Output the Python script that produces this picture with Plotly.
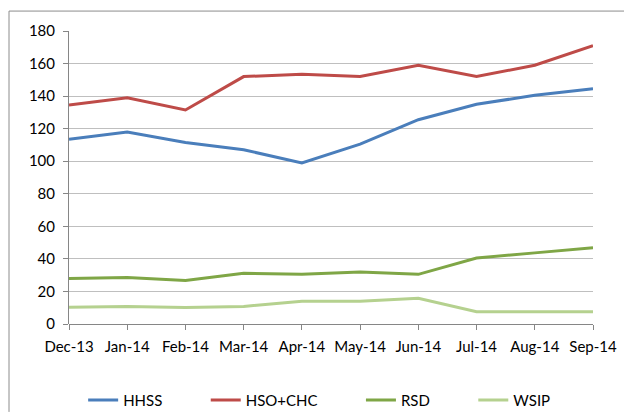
import plotly.graph_objects as go

months = ["Dec-13", "Jan-14", "Feb-14", "Mar-14", "Apr-14", "May-14", "Jun-14", "Jul-14", "Aug-14", "Sep-14"]
hhss = [113.5, 118, 111.5, 107, 99, 110.5, 125.5, 135, 140.5, 144.5]
hso_chc = [134.5, 139, 131.5, 152, 153.5, 152, 159, 152, 159, 171]
rsd = [28, 28.6, 26.8, 31.2, 30.5, 32, 30.5, 40.5, 43.7, 46.8]
wsip = [10.3, 10.8, 10.2, 10.8, 14, 14, 15.8, 7.5, 7.5, 7.5]
y_ticks = [0, 20, 40, 60, 80, 100, 120, 140, 160, 180]

series = [
    ("HHSS", hhss, "#4A7EBB"),
    ("HSO+CHC", hso_chc, "#BE4B48"),
    ("RSD", rsd, "#7FA646"),
    ("WSIP", wsip, "#B5D18F"),
]

pad = "\u00a0" * 10
fig = go.Figure()
for i, (name, vals, color) in enumerate(series):
    label = name + (pad if i < len(series) - 1 else "")
    fig.add_trace(go.Scatter(x=months, y=vals, name=label, mode="lines",
                             line=dict(color=color, width=3)))

font = dict(family="Lato, Open Sans, sans-serif", size=15, color="#000000")
frame = dict(color="#8C8C8C", width=1)

fig.update_layout(
    width=624, height=412,
    margin=dict(l=69, r=31, t=31, b=88, autoexpand=False),
    paper_bgcolor="white", plot_bgcolor="white",
    font=font,
    showlegend=True,
    legend=dict(orientation="h", x=0.027, xanchor="left", y=-0.26, yanchor="middle",
                font=font, itemwidth=30, traceorder="normal"),
    xaxis=dict(type="category", range=[0, 9], showgrid=False, showline=False,
               ticks="outside", ticklen=5, tickcolor="#868686", tickfont=font,
               zeroline=False, automargin=False, ticklabelstandoff=4),
    yaxis=dict(range=[0, 180], tickvals=y_ticks, showgrid=True, gridcolor="#BFBFBF",
               gridwidth=1, showline=True, linecolor="#868686", linewidth=1,
               ticks="outside", ticklen=5, tickcolor="#868686", tickfont=font,
               zeroline=True, zerolinecolor="#868686", zerolinewidth=1,
               automargin=False, ticklabelstandoff=5),
    shapes=[
        dict(type="line", xref="paper", yref="paper", x0=-0.1145, x1=1.1,
             y0=1.068, y1=1.068, line=frame),
        dict(type="line", xref="paper", yref="paper", x0=-0.1145, x1=-0.1145,
             y0=-0.3, y1=1.068, line=frame),
    ],
)

fig.write_html("out.html", post_script="document.body.style.margin='0';",
               config={"displayModeBar": False})
